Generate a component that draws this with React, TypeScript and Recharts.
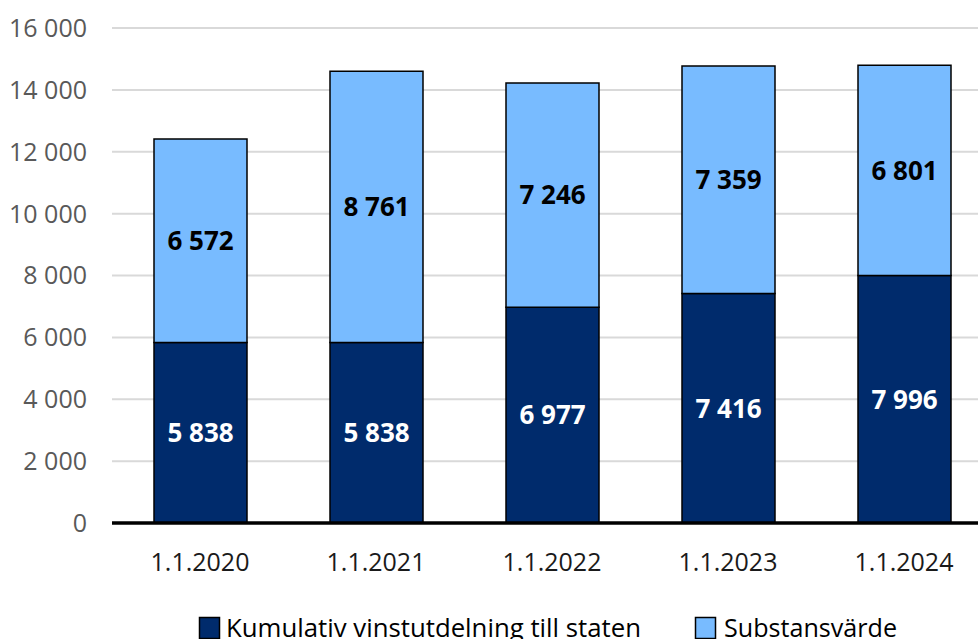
import React from 'react';
import { BarChart, Bar, XAxis, YAxis, CartesianGrid, LabelList } from 'recharts';

const categories = ['1.1.2020', '1.1.2021', '1.1.2022', '1.1.2023', '1.1.2024'];
const vinst = [5838, 5838, 6977, 7416, 7996];
const substans = [6572, 8761, 7246, 7359, 6801];
const yTicks = [0, 2000, 4000, 6000, 8000, 10000, 12000, 14000, 16000];
const seriesNames = ['Kumulativ vinstutdelning till staten', 'Substansvärde'];

const DARK = '#002b6c';
const LIGHT = '#78bbff';
const FONT = '"Open Sans", sans-serif';

const data = categories.map((c, i) => ({ cat: c, vinst: vinst[i], substans: substans[i] }));

const fmt = (v: any) => {
  const n = Number(v);
  const s = String(Math.round(n));
  return s.replace(/\B(?=(\d{3})+(?!\d))/g, '\u00a0');
};

export default function App() {
  return (
    <div style={{ position: 'absolute', left: 0, top: 0, width: 978, height: 639, overflow: 'hidden', background: '#fff', fontFamily: FONT }}>
      <BarChart width={992} height={639} data={data} margin={{ top: 28, right: 0, left: 0, bottom: 0 }} barSize={93}>
        <CartesianGrid vertical={false} stroke="#d9d9d9" strokeWidth={2} />
        <XAxis
          dataKey="cat"
          height={116}
          tickLine={false}
          tickSize={0}
          tickMargin={30}
          axisLine={{ stroke: '#000', strokeWidth: 3.5 }}
          tick={{ fill: '#1a1a1a', fontSize: 25, fontFamily: FONT }}
        />
        <YAxis
          width={112}
          domain={[0, 16000]}
          ticks={yTicks}
          tickFormatter={fmt}
          axisLine={false}
          tickLine={false}
          tickSize={0}
          tickMargin={25}
          tick={{ fill: '#595959', fontSize: 25, fontFamily: FONT }}
          interval={0}
        />
        <Bar dataKey="vinst" stackId="a" fill={DARK} stroke="#000" strokeWidth={1.5} isAnimationActive={false}>
          <LabelList dataKey="vinst" position="center" formatter={fmt} fill="#fff" fontSize={26} fontWeight="bold" fontFamily={FONT} />
        </Bar>
        <Bar dataKey="substans" stackId="a" fill={LIGHT} stroke="#000" strokeWidth={1.5} isAnimationActive={false}>
          <LabelList dataKey="substans" position="center" formatter={fmt} fill="#000" fontSize={26} fontWeight="bold" fontFamily={FONT} />
        </Bar>
      </BarChart>
      <svg width={978} height={639} style={{ position: 'absolute', left: 0, top: 0, pointerEvents: 'none' }}>
        <rect x={199.5} y={617.5} width={20} height={21} fill={DARK} stroke="#000" strokeWidth={1.5} />
        <text x={226} y={637} fontSize={26} fontFamily={FONT} fill="#000" textLength={415} lengthAdjust="spacingAndGlyphs">{seriesNames[0]}</text>
        <rect x={695.5} y={617.5} width={20} height={21} fill={LIGHT} stroke="#000" strokeWidth={1.5} />
        <text x={724} y={637} fontSize={26} fontFamily={FONT} fill="#000" textLength={173} lengthAdjust="spacingAndGlyphs">{seriesNames[1]}</text>
      </svg>
    </div>
  );
}
